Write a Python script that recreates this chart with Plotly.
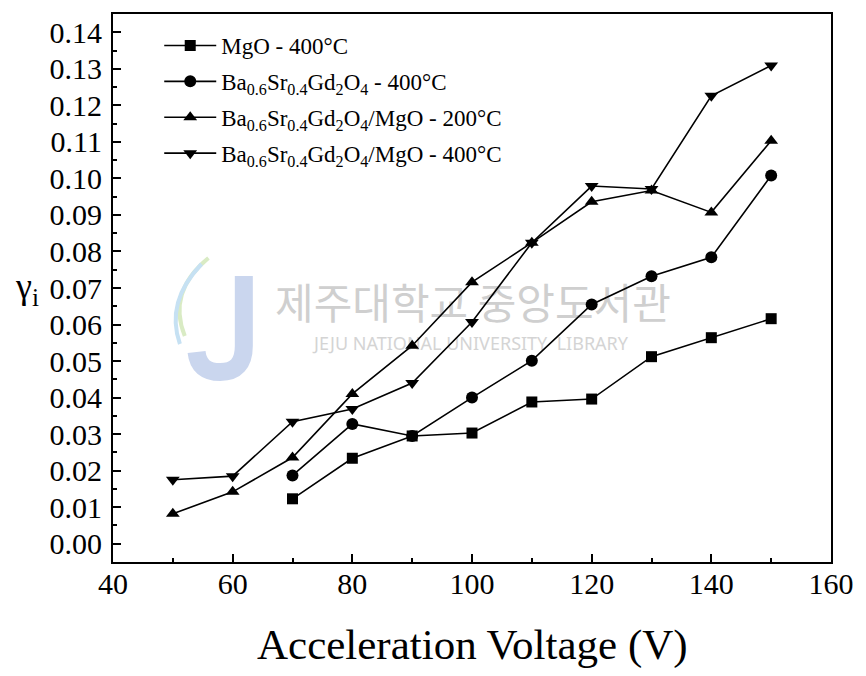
import plotly.graph_objects as go

# Acceleration voltage (V) for each series
volt_mgo = [70, 80, 90, 100, 110, 120, 130, 140, 150]
volt_bsgo = [70, 80, 90, 100, 110, 120, 130, 140, 150]
volt_bsgo_mgo200 = [50, 60, 70, 80, 90, 100, 110, 120, 130, 140, 150]
volt_bsgo_mgo400 = [50, 60, 70, 80, 90, 100, 110, 120, 130, 140, 150]

# Secondary electron emission coefficient gamma_i
gamma_mgo = [0.0123, 0.0234, 0.0295, 0.0303, 0.0388, 0.0396, 0.0512, 0.0564, 0.0616]
gamma_bsgo = [0.0187, 0.0328, 0.0295, 0.0400, 0.0501, 0.0655, 0.0732, 0.0784, 0.1008]
gamma_bsgo_mgo200 = [0.0082, 0.0142, 0.0236, 0.0410, 0.0542, 0.0716, 0.0824, 0.0936, 0.0967, 0.0907, 0.1103]
gamma_bsgo_mgo400 = [0.0175, 0.0185, 0.0334, 0.0369, 0.0440, 0.0607, 0.0824, 0.0979, 0.0971, 0.1226, 0.1309]

names = [
    "MgO - 400°C",
    "Ba<sub>0.6</sub>Sr<sub>0.4</sub>Gd<sub>2</sub>O<sub>4</sub> - 400°C",
    "Ba<sub>0.6</sub>Sr<sub>0.4</sub>Gd<sub>2</sub>O<sub>4</sub>/MgO - 200°C",
    "Ba<sub>0.6</sub>Sr<sub>0.4</sub>Gd<sub>2</sub>O<sub>4</sub>/MgO - 400°C",
]
symbols = ["square", "circle", "triangle-up", "triangle-down"]
sizes = [11, 12, 12, 12]

x_ticks = [40, 60, 80, 100, 120, 140, 160]
y_ticks = [round(0.01 * i, 2) for i in range(15)]

SERIF = "Liberation Serif, Times New Roman, serif"

W, H = 866, 676
ML, MR, MT, MB = 113, 23, 14, 114
PW, PH = W - ML - MR, H - MT - MB


def pxx(x):
    return (x - ML) / PW


def pxy(y):
    return (H - MB - y) / PH


def path_from(cmds):
    out = []
    for c in cmds:
        if isinstance(c, str):
            out.append(c)
        else:
            out.append(f"{pxx(c[0]):.4f},{pxy(c[1]):.4f}")
    return " ".join(out)


fig = go.Figure()
series = [
    (volt_mgo, gamma_mgo),
    (volt_bsgo, gamma_bsgo),
    (volt_bsgo_mgo200, gamma_bsgo_mgo200),
    (volt_bsgo_mgo400, gamma_bsgo_mgo400),
]
for i, (xs, ys) in enumerate(series):
    fig.add_trace(go.Scatter(
        x=xs, y=ys, name=names[i], mode="lines+markers",
        line=dict(color="black", width=1.6),
        marker=dict(symbol=symbols[i], size=sizes[i], color="black"),
        legendgroup=f"g{i}",
    ))

# Library watermark (drawn beneath the data)
shapes = [
    dict(type="rect", xref="paper", yref="paper", layer="below",
         x0=pxx(255), x1=pxx(703), y0=pxy(330), y1=pxy(284),
         line=dict(width=0), fillcolor="rgba(0,0,0,0)",
         label=dict(text="제주대학교 중앙도서관",
                    font=dict(family="Noto Sans CJK KR", size=42, color="#cfcfcf"),
                    textposition="middle center")),
    dict(type="rect", xref="paper", yref="paper", layer="below",
         x0=pxx(270), x1=pxx(684), y0=pxy(352), y1=pxy(335),
         line=dict(width=0), fillcolor="rgba(0,0,0,0)",
         label=dict(text="JEJU NATIONAL UNIVERSITY  LIBRARY",
                    font=dict(family="Noto Sans", size=18, color="#d4d4d4"),
                    textposition="middle center")),
    dict(type="path", xref="paper", yref="paper", layer="below",
         path=path_from(["M", (246, 276), "L", (246, 346), "Q", (246, 372), (222, 372),
                         "Q", (200, 372), (198, 352)]),
         line=dict(color="#cad6ee", width=18)),
    dict(type="path", xref="paper", yref="paper", layer="below",
         path=path_from(["M", (210, 258), "Q", (168, 292), (186, 336)]),
         line=dict(color="#d9ebc4", width=4)),
    dict(type="path", xref="paper", yref="paper", layer="below",
         path=path_from(["M", (203, 264), "Q", (166, 302), (181, 344)]),
         line=dict(color="#c6e1f3", width=4)),
]

annotations = [
    dict(text="Acceleration Voltage (V)", xref="paper", yref="paper",
         x=0.5, y=pxy(645), xanchor="center", yanchor="middle", showarrow=False,
         font=dict(family=SERIF, size=43, color="black")),
    dict(text="γ<sub>i</sub>", xref="paper", yref="paper",
         x=pxx(26), y=pxy(288), xanchor="center", yanchor="middle", showarrow=False,
         font=dict(family=SERIF, size=36, color="black")),
]

fig.update_layout(
    width=W, height=H,
    margin=dict(l=ML, r=MR, t=MT, b=MB, pad=0),
    paper_bgcolor="white", plot_bgcolor="rgba(0,0,0,0)",
    font=dict(family=SERIF, size=23, color="black"),
    showlegend=True,
    legend=dict(x=pxx(160), y=pxy(24), xanchor="left", yanchor="top",
                bgcolor="rgba(0,0,0,0)", borderwidth=0,
                font=dict(family=SERIF, size=23, color="black"),
                itemwidth=52, traceorder="grouped", tracegroupgap=3),
    shapes=shapes,
    annotations=annotations,
)
fig.update_xaxes(
    range=[40, 160], tickvals=x_ticks, ticktext=[str(v) for v in x_ticks],
    showline=True, linecolor="black", linewidth=2, mirror=True,
    ticks="inside", ticklen=8, tickwidth=1.5, tickcolor="black",
    minor=dict(ticks="inside", ticklen=4, dtick=10, tickwidth=1.5, tickcolor="black"),
    showgrid=False, zeroline=False, ticklabelstandoff=-6,
    tickfont=dict(family=SERIF, size=30, color="black"),
)
fig.update_yaxes(
    range=[-0.005, 0.145], tickvals=y_ticks, ticktext=[f"{v:.2f}" for v in y_ticks],
    showline=True, linecolor="black", linewidth=2, mirror=True,
    ticks="inside", ticklen=8, tickwidth=1.5, tickcolor="black",
    minor=dict(ticks="inside", ticklen=4, dtick=0.005, tickwidth=1.5, tickcolor="black"),
    showgrid=False, zeroline=False, ticklabelstandoff=3,
    tickfont=dict(family=SERIF, size=30, color="black"),
)

fig.write_html("out.html")
